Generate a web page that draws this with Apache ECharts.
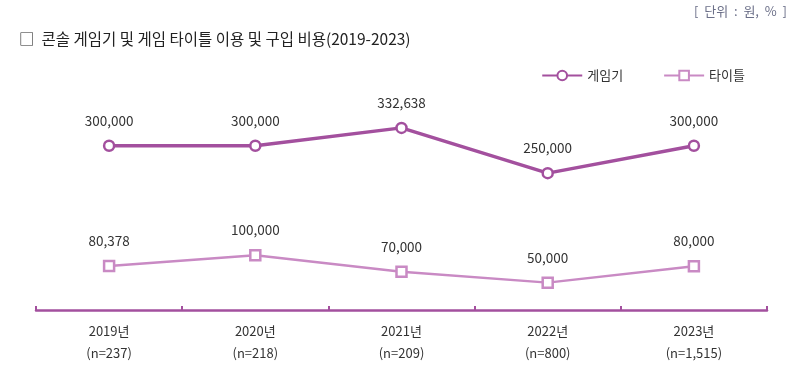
<!DOCTYPE html>
<html><head><meta charset="utf-8">
<script src="https://cdn.jsdelivr.net/npm/echarts@6/dist/echarts.min.js"></script>
<style>html,body{margin:0;padding:0;background:#fff}#c{width:800px;height:374px}</style>
</head><body><div id="c"></div>
<script>
const categories = ['2019년\n(n=237)', '2020년\n(n=218)', '2021년\n(n=209)', '2022년\n(n=800)', '2023년\n(n=1,515)'];
const consoleCost = [300000, 300000, 332638, 250000, 300000];
const titleCost = [80378, 100000, 70000, 50000, 80000];
const seriesNames = ['게임기', '타이틀'];
const titleText = '□  콘솔 게임기 및 게임 타이틀 이용 및 구입 비용(2019-2023)';
const unitText = '[  단위  :  원,  %  ]';

const font = '"Noto Sans CJK KR", "Noto Sans", sans-serif';
const chart = echarts.init(document.getElementById('c'));
const fmt = v => v.toLocaleString('en-US');
chart.setOption({
  animation: false,
  textStyle: { fontFamily: font },
  title: [
    { text: titleText, left: 14, top: 26, textStyle: { fontSize: 15.5, fontWeight: 'normal', color: '#222', fontFamily: font } },
    { text: unitText, right: 8, top: 0, textStyle: { fontSize: 13, fontWeight: 'normal', color: '#6b6f88', fontFamily: font } }
  ],
  legend: {
    data: seriesNames, right: 50, top: 64, itemGap: 40, itemWidth: 40, itemHeight: 12,
    textStyle: { fontSize: 13, color: '#333', fontFamily: font }
  },
  grid: { left: 36, right: 33, top: 91, bottom: 64 },
  xAxis: {
    type: 'category', data: categories, boundaryGap: true,
    axisLine: { lineStyle: { color: '#a3509e', width: 2.5 } },
    axisTick: { show: true, inside: true, length: 4, lineStyle: { color: '#a3509e', width: 2 } },
    axisLabel: { fontSize: 13, color: '#333', lineHeight: 22, margin: 10, fontFamily: font }
  },
  yAxis: { type: 'value', min: 0, max: 400000, show: false, splitLine: { show: false } },
  series: [
    {
      name: seriesNames[0], type: 'line', data: consoleCost,
      symbol: 'circle', symbolSize: 10,
      lineStyle: { color: '#a3509e', width: 3.5 },
      itemStyle: { color: '#fff', borderColor: '#a3509e', borderWidth: 2.5 },
      label: { show: true, position: 'top', distance: 12, formatter: p => fmt(p.value), fontSize: 13.5, color: '#333', fontFamily: font }
    },
    {
      name: seriesNames[1], type: 'line', data: titleCost,
      symbol: 'rect', symbolSize: 10,
      lineStyle: { color: '#c98ac4', width: 2.5 },
      itemStyle: { color: '#fff', borderColor: '#c98ac4', borderWidth: 2.5 },
      label: { show: true, position: 'top', distance: 12, formatter: p => fmt(p.value), fontSize: 13.5, color: '#333', fontFamily: font }
    }
  ]
});
</script></body></html>
